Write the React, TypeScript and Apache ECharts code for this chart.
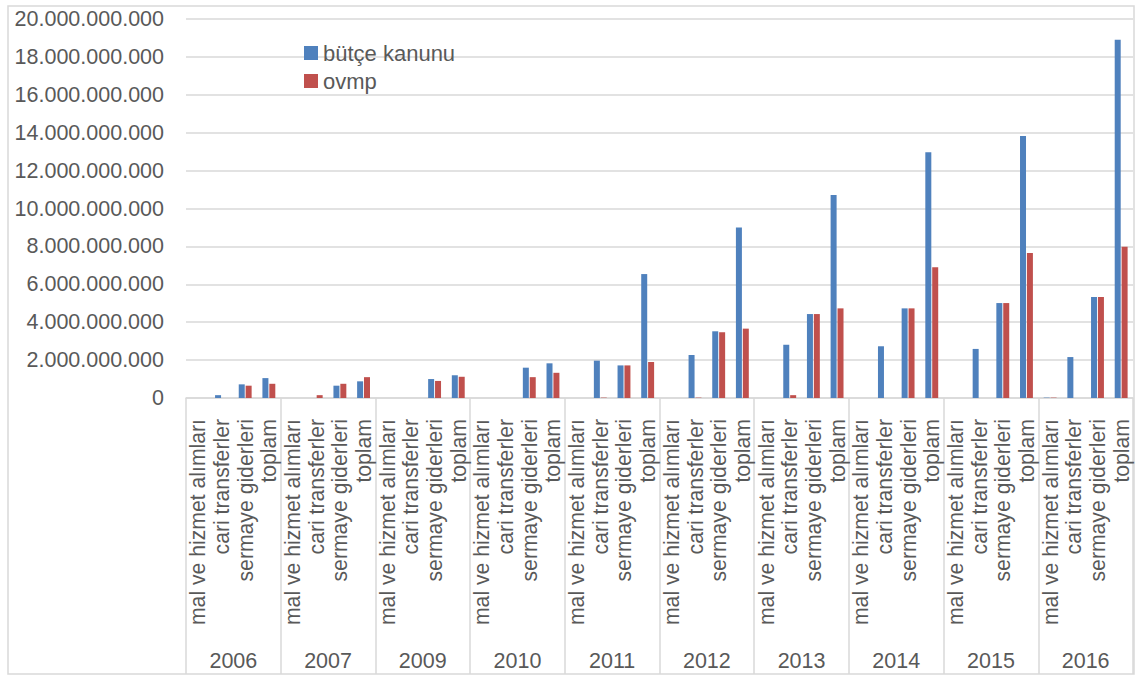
import React, { useEffect, useRef } from "react";
import * as echarts from "echarts";

const years = ["2006", "2007", "2009", "2010", "2011", "2012", "2013", "2014", "2015", "2016"];
const items = ["mal ve hizmet alımları", "cari transferler", "sermaye giderleri", "toplam"];
const seriesNames = ["bütçe kanunu", "ovmp"];

// per year: [mal ve hizmet alımları, cari transferler, sermaye giderleri, toplam]
const butceKanunu = [
  0, 150000000, 720000000, 1050000000,
  0, 0, 650000000, 880000000,
  0, 0, 1000000000, 1200000000,
  0, 0, 1600000000, 1830000000,
  0, 1970000000, 1720000000, 6540000000,
  0, 2270000000, 3520000000, 9000000000,
  0, 2810000000, 4430000000, 10710000000,
  0, 2730000000, 4730000000, 12970000000,
  0, 2590000000, 5010000000, 13830000000,
  20000000, 2160000000, 5330000000, 18900000000,
];
const ovmp = [
  0, 0, 650000000, 750000000,
  0, 150000000, 750000000, 1100000000,
  0, 0, 900000000, 1120000000,
  0, 0, 1100000000, 1330000000,
  0, 20000000, 1720000000, 1900000000,
  0, 20000000, 3470000000, 3660000000,
  0, 150000000, 4430000000, 4730000000,
  0, 0, 4730000000, 6900000000,
  0, 0, 5010000000, 7650000000,
  20000000, 0, 5330000000, 7980000000,
];

const yMin = 0;
const yMax = 20000000000;
const yInterval = 2000000000;

const categories: string[] = [];
years.forEach(() => items.forEach((it) => categories.push(it)));

const fmt = (v: number) => String(Math.round(v)).replace(/\B(?=(\d{3})+(?!\d))/g, ".");

const FONT = "Liberation Sans";
const TEXT = "#595959";
const GRID = "#d9d9d9";

export default function App() {
  const ref = useRef<HTMLDivElement>(null);
  useEffect(() => {
    if (!ref.current) return;
    const chart = echarts.init(ref.current, undefined, { renderer: "svg" });
    chart.setOption({
      animation: false,
      backgroundColor: "#ffffff",
      textStyle: { fontFamily: FONT },
      graphic: [
        {
          type: "rect",
          silent: true,
          z: -10,
          shape: { x: 8, y: 6, width: 1126, height: 668 },
          style: { fill: "transparent", stroke: GRID, lineWidth: 1.5 },
        },
      ],
      legend: {
        orient: "vertical",
        left: 299,
        top: 37,
        itemWidth: 14,
        itemHeight: 14,
        itemGap: 6,
        icon: "rect",
        textStyle: { fontFamily: FONT, fontSize: 22, color: TEXT, lineHeight: 22 },
        data: seriesNames,
      },
      grid: { left: 186, right: 3, top: 19, bottom: 277, containLabel: false },
      xAxis: [
        {
          type: "category",
          data: categories,
          position: "bottom",
          axisLine: { show: true, lineStyle: { color: GRID, width: 1.5 } },
          axisTick: { show: false },
          axisLabel: {
            interval: 0,
            rotate: 90,
            margin: 21,
            fontFamily: FONT,
            fontSize: 21.2,
            color: TEXT,
          },
        },
        {
          type: "category",
          data: years,
          position: "bottom",
          offset: 0,
          axisLine: { show: false },
          axisTick: { show: true, interval: 0, length: 276, lineStyle: { color: GRID, width: 1.5 } },
          axisLabel: {
            interval: 0,
            margin: 252,
            fontFamily: FONT,
            fontSize: 21.5,
            color: TEXT,
          },
        },
      ],
      yAxis: {
        type: "value",
        min: yMin,
        max: yMax,
        interval: yInterval,
        axisLine: { show: false },
        axisTick: { show: false },
        splitLine: { lineStyle: { color: GRID, width: 1.5 } },
        axisLabel: {
          margin: 22,
          fontFamily: FONT,
          fontSize: 21.5,
          color: TEXT,
          formatter: (v: number) => fmt(v),
        },
      },
      series: [
        {
          name: seriesNames[0],
          type: "bar",
          xAxisIndex: 0,
          data: butceKanunu,
          barWidth: 6,
          barGap: "15%",
          itemStyle: { color: "#4f81bd" },
        },
        {
          name: seriesNames[1],
          type: "bar",
          xAxisIndex: 0,
          data: ovmp,
          barWidth: 6,
          barGap: "15%",
          itemStyle: { color: "#c0504d" },
        },
      ],
    });
    return () => chart.dispose();
  }, []);
  return (
    <div
      ref={ref}
      style={{ position: "absolute", left: 0, top: 0, width: 1136, height: 675 }}
    />
  );
}
